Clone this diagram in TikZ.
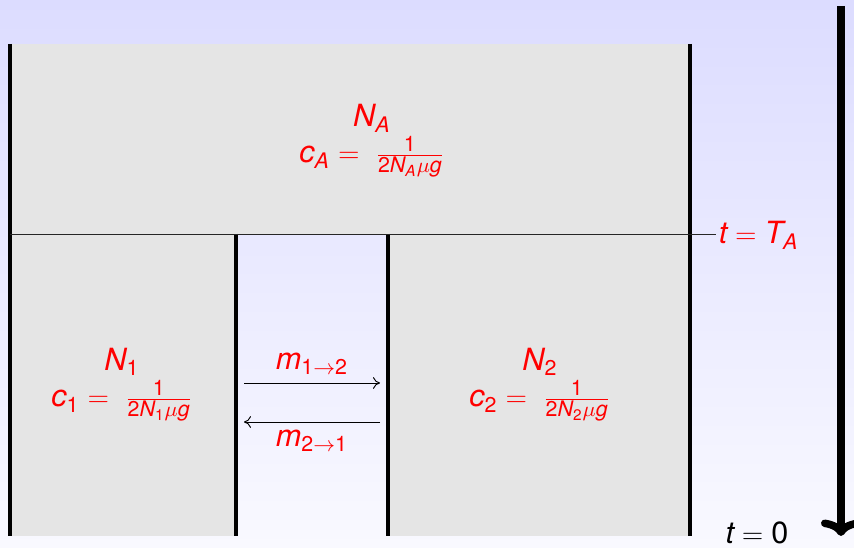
\documentclass[tikz,border=0pt]{standalone}
\usepackage{amsmath}
\usepackage{fontspec}
\setmainfont{TeX Gyre Heros}
\usetikzlibrary{arrows.meta}
\newcommand\mi[1]{\textit{#1}}
\newcommand\mr[1]{\textup{#1}}
\definecolor{bgtop}{RGB}{220,220,255}
\definecolor{bgbot}{RGB}{249,249,255}
\definecolor{boxgray}{RGB}{229,229,229}
\begin{document}
\begin{tikzpicture}[x=0.425pt,y=-0.425pt,
  popbox/.style={fill=boxgray,draw=none},
  wall/.style={line width=1.7pt,black},
  lbl/.style={text=red,font=\fontsize{13}{16}\selectfont,align=center,inner sep=1pt},
  blbl/.style={text=black,font=\fontsize{13}{16}\selectfont,inner sep=1pt},
  mig/.style={thin,-{To[length=3pt,width=5pt]}},
  timearrow/.style={line width=3.2pt,-{To[length=7pt,width=17pt]}}]
\useasboundingbox (0,0) rectangle (854,548);
\shade[top color=bgtop,bottom color=bgbot] (0,0) rectangle (854,548);
% populations
\fill[popbox] (10,44) rectangle (690,234);
\fill[popbox] (10,234) rectangle (236,536);
\fill[popbox] (388,234) rectangle (690,536);
% walls
\draw[wall] (10,44) -- (10,536);
\draw[wall] (690,44) -- (690,536);
\draw[wall] (236,234) -- (236,536);
\draw[wall] (388,234) -- (388,536);
% labels
\node[lbl] (NA) at (372,118) {$\mi{N}_{\mi{A}}$};
\node[lbl] (cA) at (372,157) {$\mi{c}_{\mi{A}} = \;\frac{\mr{1}}{\mr{2}\mi{N}_{\mi{A}}\mu\mi{g}}$};
\node[lbl] (N1) at (122,362) {$\mi{N}_{\mr{1}}$};
\node[lbl] (c1) at (122,401) {$\mi{c}_{\mr{1}} = \;\frac{\mr{1}}{\mr{2}\mi{N}_{\mr{1}}\mu\mi{g}}$};
\node[lbl] (N2) at (540,362) {$\mi{N}_{\mr{2}}$};
\node[lbl] (c2) at (540,401) {$\mi{c}_{\mr{2}} = \;\frac{\mr{1}}{\mr{2}\mi{N}_{\mr{2}}\mu\mi{g}}$};
\node[lbl] (m12) at (312,364) {$\mi{m}_{\mr{1}\to\mr{2}}$};
\node[lbl] (m21) at (312,441) {$\mi{m}_{\mr{2}\to\mr{1}}$};
\node[lbl,anchor=west] (tA) at (716,235) {$\mi{t} = \mi{T}_{\mi{A}}$};
\node[blbl] (t0) at (757,533) {$\mi{t} = \mr{0}$};
% split line
\coordinate (splitL) at (10,234);
\draw[thin,black!85] (splitL) -- (tA.west |- splitL);
% migration arrows
\coordinate (a1) at (244,383);
\coordinate (a2) at (380,383);
\coordinate (b1) at (380,422);
\coordinate (b2) at (244,422);
\draw[mig] (a1) -- (a2);
\draw[mig] (b1) -- (b2);
% time arrow
\coordinate (timeTop) at (841,6);
\coordinate (timeBot) at (841,536);
\draw[timearrow] (timeTop) -- (timeBot);
\end{tikzpicture}
\end{document}
